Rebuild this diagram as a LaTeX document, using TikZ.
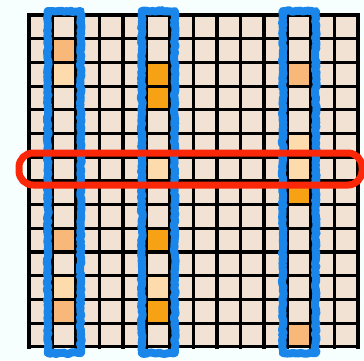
\documentclass[tikz,border=0pt]{standalone}
\usetikzlibrary{decorations.pathmorphing}
\definecolor{pagebg}{HTML}{F6FFFE}
\definecolor{cellbg}{HTML}{F2E2D4}
\definecolor{peach}{HTML}{FDDBAD}
\definecolor{apricot}{HTML}{F8B87A}
\definecolor{amber}{HTML}{F7A114}
\definecolor{markblue}{HTML}{1A86EA}
\definecolor{markred}{HTML}{FA2808}

\newcommand{\cw}{23.5}
\newcommand{\ch}{23.7}

\begin{document}
\begin{tikzpicture}[x=1pt, y=-1pt,
    gridline/.style={line width=3.1pt, black, line cap=rect},
    colmark/.style={draw=markblue, line width=8pt, line join=round,
        decorate, decoration={random steps, segment length=2pt, amplitude=0.9pt}},
    rowmark/.style={draw=markred, line width=7pt, rounded corners=14pt}
]
\fill[pagebg] (0,0) rectangle (364,360);
\useasboundingbox (0,0) rectangle (364,360);

% the board
\coordinate (nw) at (29,15);
\coordinate (se) at (358,347);
\fill[cellbg] (nw) rectangle (se);

% shaded cells: column/row/colour
\foreach \c/\r/\k in {1/1/apricot, 1/2/peach, 1/9/apricot, 1/11/peach, 1/12/apricot,
    5/2/amber, 5/3/amber, 5/6/peach, 5/9/amber, 5/11/peach, 5/12/amber,
    11/2/apricot, 11/5/peach, 11/6/peach, 11/7/amber, 11/13/apricot}
  \fill[\k] ({29+\c*\cw},{15+\r*\ch}) rectangle +(\cw,\ch);

\foreach \i in {0,...,14} {
  \draw[gridline] ({29+\i*\cw},15) -- ({29+\i*\cw},347);
  \draw[gridline] (29,{15+\i*\ch}) -- (358,{15+\i*\ch});
}

% picked columns
\foreach \c in {1,5,11}
  \draw[colmark] ({29+(\c+0.5)*\cw-16.5},11) rectangle ({29+(\c+0.5)*\cw+16.5},353);

% picked row
\draw[rowmark] (19,153) rectangle (362,185);
\end{tikzpicture}
\end{document}
